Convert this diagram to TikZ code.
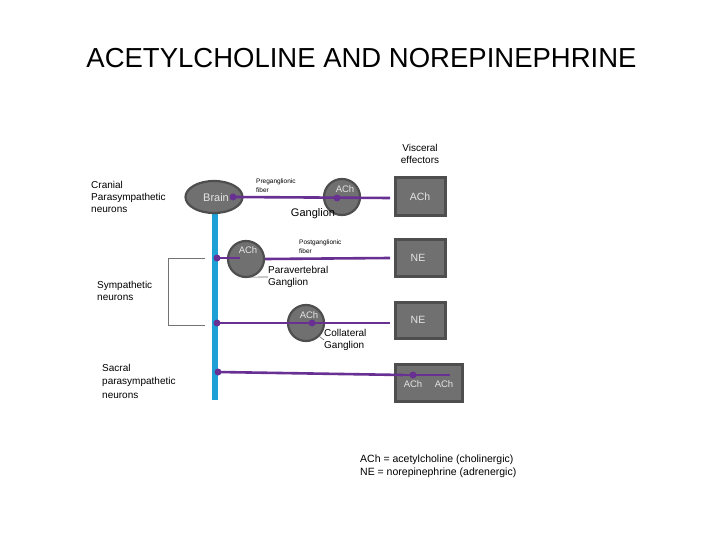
\documentclass[tikz,border=0pt]{standalone}
\usepackage{fontspec}
\setmainfont{Liberation Sans}
\usetikzlibrary{shapes.geometric}
\definecolor{fibre}{RGB}{104,48,146}
\definecolor{cord}{RGB}{28,160,214}
\definecolor{cellgray}{RGB}{112,112,112}
\definecolor{rimgray}{RGB}{78,78,78}

\begin{document}
\begin{tikzpicture}[x=1pt, y=-1pt,
  gang/.style={circle, fill=cellgray, draw=rimgray, line width=2.2pt, minimum size=36pt, inner sep=0pt},
  effector/.style={rectangle, fill=cellgray, draw=rimgray, line width=2.6pt, inner sep=0pt},
  fiber/.style={fibre, line width=2.6pt},
  syn/.style={circle, fill=fibre, inner sep=0pt, minimum size=7pt},
  lbl/.style={font=\fontsize{10}{12}\selectfont, align=left, inner sep=0pt},
  tiny/.style={font=\fontsize{6.5}{9}\selectfont, align=left, inner sep=0pt},
  wtxt/.style={text=white!90!black, inner sep=0pt}]
\useasboundingbox (0,0) rectangle (720,540);

% Title
\node (title) at (361.5,58) {\fontsize{27.5}{30}\selectfont ACETYLCHOLINE AND NOREPINEPHRINE};

% Spinal cord
\fill[cord] (212,213) rectangle (218,400);

% Nodes
\node[ellipse, fill=cellgray, draw=rimgray, line width=2.2pt, minimum width=57pt, minimum height=32pt, inner sep=0pt] (brain) at (214,197) {};
\node[wtxt, font=\fontsize{11}{12}\selectfont] at (216,198) {Brain};
\node[effector, minimum width=50pt, minimum height=38pt] (eff1) at (420.5,196.5) {};
\node[effector, minimum width=50pt, minimum height=37pt] (eff2) at (420.5,258) {};
\node[effector, minimum width=50pt, minimum height=36pt] (eff3) at (420.5,320.5) {};
\node[effector, minimum width=67pt, minimum height=37pt] (eff4) at (429,383) {};
\node[wtxt, font=\fontsize{10.5}{12}\selectfont] at (420,197) {ACh};
\node[wtxt, font=\fontsize{10.5}{12}\selectfont] at (418,258) {NE};
\node[wtxt, font=\fontsize{10.5}{12}\selectfont] at (418,320) {NE};
\node[wtxt, font=\fontsize{9.5}{12}\selectfont] at (413,384) {ACh};
\node[wtxt, font=\fontsize{9.5}{12}\selectfont] at (444,384) {ACh};

\node[gang] (g1) at (342,197) {};
\node[gang] (g2) at (246,259) {};
\node[gang] (g3) at (306,323) {};

% Links
\coordinate (b1) at (233,197);
\coordinate (s2) at (217,258);
\coordinate (s3) at (217,323);
\coordinate (s4) at (218,372);
\coordinate (e1) at (390,198);
\coordinate (e2) at (390,258);
\coordinate (e3) at (390,323);
\coordinate (e4) at (403,375);
\coordinate (c1) at (337,198);
\coordinate (c2) at (240,258);
\coordinate (c3) at (312,323);
\coordinate (c4) at (413,375);
\coordinate (t4) at (450,375);
\draw[fiber] (b1) -- (e1); % brain --> effector
\draw[fiber] (g2.east) -- (e2); % paravertebral --> effector
\draw[fiber] (s2) -- (c2);
\draw[fiber] (s3) -- (e3); % collateral --> effector
\draw[fiber] (s4) -- (e4); % sacral --> effector
\draw[fiber] (e4) -- (t4);

% Synapses
\node[syn] at (b1) {};
\node[syn] at (c1) {};
\node[syn] at (s2) {};
\node[syn] at (s3) {};
\node[syn] at (c3) {};
\node[syn] at (s4) {};
\node[syn] at (c4) {};

% Ganglion texts
\node[wtxt, font=\fontsize{9.5}{12}\selectfont] at (345,189) {ACh};
\node[wtxt, font=\fontsize{9.5}{12}\selectfont] at (248,250) {ACh};
\node[wtxt, font=\fontsize{9.5}{12}\selectfont] at (309,315) {ACh};

% Bracket
\draw[black!55, line width=0.8pt] (205,258) -- (168,258) -- (168,325) -- (205,325);

% Labels
\node[lbl, align=center] (visc) at (420,154) {Visceral\\effectors};
\node[lbl, anchor=north west] (cran) at (91,181) {Cranial\\Parasympathetic\\neurons};
\node[lbl, anchor=north west] (symp) at (97,281) {Sympathetic\\neurons};
\node[lbl, anchor=north west, font=\fontsize{10}{13.5}\selectfont] (sacr) at (102,364) {Sacral\\parasympathetic\\neurons};
\node[tiny, anchor=west] (pre) at (256,186) {Preganglionic\\fiber};
\node[tiny, anchor=west] (post) at (299,247) {Postganglionic\\fiber};
\node[lbl, font=\fontsize{11}{12}\selectfont] (gname) at (313,214) {Ganglion};
\node[lbl, anchor=west] (para) at (268,277) {Paravertebral\\Ganglion};
\node[lbl, anchor=west] (coll) at (324,340) {Collateral\\Ganglion};
\draw[black!60, line width=0.6pt] (g2.south) ++(2,-1) -- (para.west);
\draw[black!60, line width=0.6pt] (g3.south east) -- (coll.west);
\node[lbl, anchor=west, font=\fontsize{10.5}{13}\selectfont] (key) at (360,466) {ACh = acetylcholine (cholinergic)\\NE = norepinephrine (adrenergic)};

\end{tikzpicture}
\end{document}
